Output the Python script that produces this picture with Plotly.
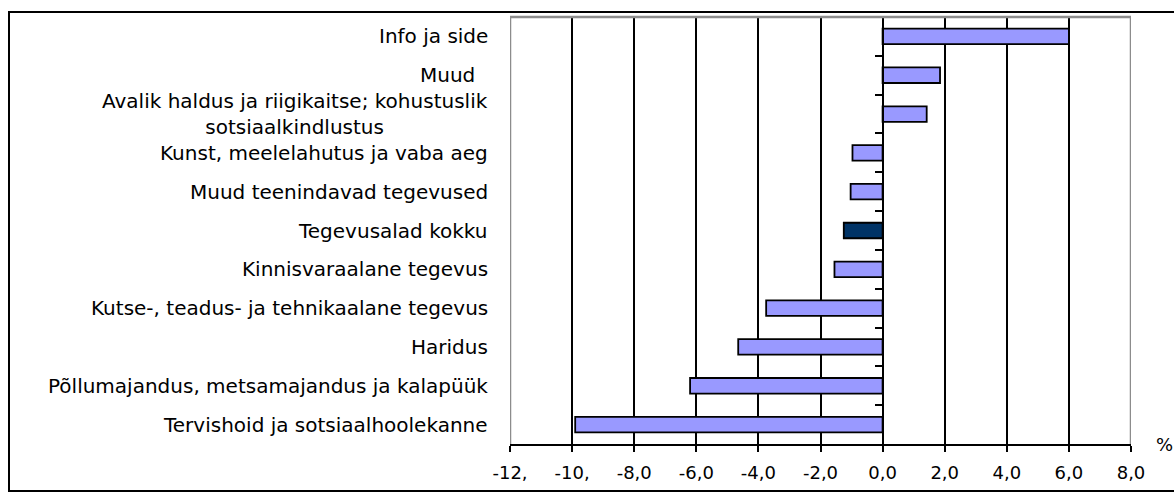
import plotly.graph_objects as go

# Change by activity, % (bottom to top)
categories = [
    "Tervishoid ja sotsiaalhoolekanne",
    "Põllumajandus, metsamajandus ja kalapüük",
    "Haridus",
    "Kutse-, teadus- ja tehnikaalane tegevus",
    "Kinnisvaraalane tegevus",
    "Tegevusalad kokku",
    "Muud teenindavad tegevused",
    "Kunst, meelelahutus ja vaba aeg",
    "Avalik haldus ja riigikaitse; kohustuslik<br>sotsiaalkindlustus",
    "Muud\u00a0\u00a0",
    "Info ja side",
]
values = [-9.9, -6.2, -4.65, -3.75, -1.55, -1.25, -1.03, -0.97, 1.42, 1.85, 6.0]
total_label = "Tegevusalad kokku"

x_tickvals = [-12, -10, -8, -6, -4, -2, 0, 2, 4, 6, 8]
x_ticktext = ["-12,", "-10,", "-8,0", "-6,0", "-4,0", "-2,0", "0,0", "2,0", "4,0", "6,0", "8,0"]
x_range = [-12, 8]

W, H = 1174, 495
ML, MR, MT, MB = 510, 43, 17, 51
PW, PH = W - ML - MR, H - MT - MB


def px_x(px):
    return (px - ML) / PW


def px_y(py):
    return (H - MB - py) / PH


FONT = "DejaVu Sans"
BAR_COLOR = "#9999FF"
TOTAL_COLOR = "#003366"

positions = list(range(len(categories)))
colors = [TOTAL_COLOR if c == total_label else BAR_COLOR for c in categories]

fig = go.Figure()
fig.add_trace(go.Bar(
    x=values, y=positions, orientation="h", width=0.4,
    marker=dict(color=colors, line=dict(color="black", width=1.8)),
    hoverinfo="x", showlegend=False,
))
# empty trace that carries the zero-line axis
fig.add_trace(go.Scatter(x=[None], y=[None], yaxis="y2", showlegend=False))

annotations = []
for pos, name in zip(positions, categories):
    annotations.append(dict(
        x=0, xref="paper", xshift=-20, y=pos, yref="y",
        text=name, showarrow=False, xanchor="right", yanchor="middle",
        align="center", font=dict(family=FONT, size=20, color="black"),
    ))
annotations.append(dict(
    x=px_x(1154), xref="paper", y=0, yref="paper", text="%",
    showarrow=False, xanchor="left", yanchor="middle",
    font=dict(family=FONT, size=18, color="black"),
))

gray = "#8c8c8c"
shapes = [
    # plot frame (left, right, top)
    dict(type="line", xref="x", yref="paper", x0=x_range[0], x1=x_range[0], y0=0, y1=1,
         line=dict(color=gray, width=2.5), layer="above"),
    dict(type="line", xref="x", yref="paper", x0=x_range[1], x1=x_range[1], y0=0, y1=1,
         line=dict(color=gray, width=2.5), layer="above"),
    dict(type="line", xref="x", yref="paper", x0=x_range[0], x1=x_range[1], y0=1, y1=1,
         line=dict(color=gray, width=2.5), layer="above"),
    # outer chart border
    dict(type="rect", xref="paper", yref="paper",
         x0=px_x(9), x1=px_x(1185), y0=px_y(491), y1=px_y(12),
         line=dict(color="black", width=2), layer="above"),
]

cat_range = [-0.5, len(categories) - 0.5]

fig.update_layout(
    width=W, height=H,
    margin=dict(l=ML, r=MR, t=MT, b=MB),
    paper_bgcolor="white", plot_bgcolor="white",
    font=dict(family=FONT, color="black"),
    xaxis=dict(
        range=x_range, tickvals=x_tickvals, ticktext=x_ticktext,
        showgrid=True, gridcolor="black", gridwidth=2,
        zeroline=False, showline=True, linecolor="black", linewidth=2,
        ticks="outside", ticklen=6, tickwidth=2, tickcolor="black",
        tickfont=dict(family=FONT, size=18, color="black"),
        ticklabelstandoff=5, fixedrange=True,
    ),
    yaxis=dict(
        range=cat_range, showticklabels=False, ticks="",
        showgrid=False, zeroline=False, showline=False, fixedrange=True,
    ),
    yaxis2=dict(
        overlaying="y", anchor="free", side="left",
        position=(0 - x_range[0]) / (x_range[1] - x_range[0]),
        range=cat_range,
        tickvals=[p + 0.5 for p in positions[:-1]],
        ticks="outside", ticklen=7, tickwidth=2, tickcolor="black",
        showticklabels=False, showline=True, linecolor="black", linewidth=2,
        showgrid=False, zeroline=False, fixedrange=True,
    ),
    annotations=annotations,
    shapes=shapes,
    bargap=0.6,
)

fig.write_html("out.html")
